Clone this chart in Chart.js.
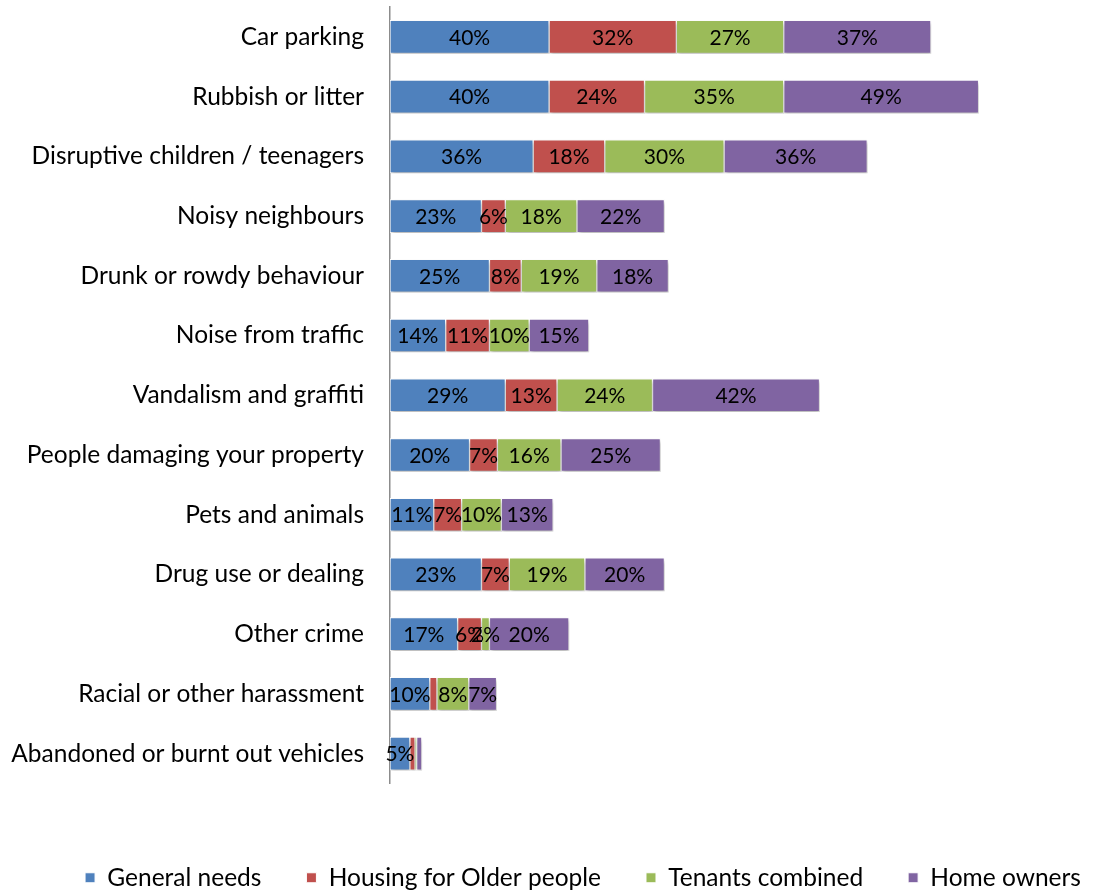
<!DOCTYPE html>
<html>
<head>
<meta charset="utf-8">
<script src="https://cdn.jsdelivr.net/npm/chart.js@4/dist/chart.umd.min.js"></script>
<style>
  html, body { margin: 0; padding: 0; background: #ffffff; }
  #wrap { width: 1093px; height: 893px; position: relative; }
</style>
</head>
<body>
<div id="wrap"><canvas id="c" width="1093" height="893"></canvas></div>
<script>
// ---- Data ----
const categories = [
  "Car parking",
  "Rubbish or litter",
  "Disruptive children / teenagers",
  "Noisy neighbours",
  "Drunk or rowdy behaviour",
  "Noise from traffic",
  "Vandalism and graffiti",
  "People damaging your property",
  "Pets and animals",
  "Drug use or dealing",
  "Other crime",
  "Racial or other harassment",
  "Abandoned or burnt out vehicles"
];
const seriesNames = ["General needs", "Housing for Older people", "Tenants combined", "Home owners"];
const generalNeeds   = [40, 40, 36, 23, 25, 14, 29, 20, 11, 23, 17, 10, 5];
const housingOlder   = [32, 24, 18, 6, 8, 11, 13, 7, 7, 7, 6, 1.8, 1.3];
const tenantsCombined= [27, 35, 30, 18, 19, 10, 24, 16, 10, 19, 2, 8, 0.4];
const homeOwners     = [37, 49, 36, 22, 18, 15, 42, 25, 13, 20, 20, 7, 1.3];
const xMax = 175;

// ---- Styles ----
const colors = ["#4F81BD", "#C0504D", "#9BBB59", "#8064A2"];
const FAMILY = "Lato, 'Open Sans', sans-serif";
const catSize = 24.5;
const legendSize = 24.5;
const valueSize = 21;

const allSeries = [generalNeeds, housingOlder, tenantsCombined, homeOwners];

const shadowPlugin = {
  id: 'barShadow',
  beforeDatasetsDraw(chart) {
    const ctx = chart.ctx;
    ctx.save();
    ctx.shadowColor = 'rgba(0,0,0,0.28)';
    ctx.shadowBlur = 4;
    ctx.shadowOffsetX = 1;
    ctx.shadowOffsetY = 3;
  },
  afterDatasetsDraw(chart) {
    chart.ctx.restore();
  }
};

const valueLabels = {
  id: 'valueLabels',
  afterDatasetsDraw(chart) {
    const ctx = chart.ctx;
    ctx.save();
    ctx.font = valueSize + "px " + FAMILY;
    ctx.fillStyle = "#000000";
    ctx.textAlign = "center";
    ctx.textBaseline = "middle";
    chart.data.datasets.forEach((ds, di) => {
      const meta = chart.getDatasetMeta(di);
      meta.data.forEach((el, i) => {
        const v = ds.data[i];
        if (v < 2) return;
        const p = el.getCenterPoint();
        ctx.fillText(Math.round(v) + "%", p.x, p.y + 1);
      });
    });
    ctx.restore();
  }
};

// shift the legend row to the right, as in the reference
const legendShift = {
  id: 'legendShift',
  afterLayout(chart) {
    if (chart.legend) {
      chart.legend.left += 40;
      chart.legend.right += 40;
    }
  }
};

new Chart(document.getElementById('c'), {
  type: 'bar',
  data: {
    labels: categories,
    datasets: seriesNames.map((name, k) => ({
      label: name,
      data: allSeries[k],
      backgroundColor: colors[k],
      borderColor: '#ffffff',
      borderWidth: 1,
      borderSkipped: false,
      barThickness: 33
    }))
  },
  options: {
    indexAxis: 'y',
    responsive: false,
    animation: false,
    devicePixelRatio: 1,
    layout: { padding: { top: 7, right: 7, left: 0, bottom: -7 } },
    scales: {
      x: {
        stacked: true,
        min: 0,
        max: xMax,
        grid: { display: false, drawTicks: false },
        border: { display: false },
        ticks: { display: false },
        afterFit(s) { s.height = 37; }
      },
      y: {
        stacked: true,
        grid: { display: false, drawTicks: false },
        border: { display: true, color: '#8c8c8c', width: 1.5 },
        ticks: {
          color: '#000000',
          padding: 26,
          font: { family: FAMILY, size: catSize }
        },
        afterFit(s) { s.width = 390; s.paddingTop = 0; s.paddingBottom = 0; }
      }
    },
    plugins: {
      legend: {
        position: 'bottom',
        labels: {
          color: '#000000',
          boxWidth: 10,
          boxHeight: 10,
          padding: 45,
          font: { family: FAMILY, size: legendSize }
        }
      },
      tooltip: { enabled: false }
    }
  },
  plugins: [shadowPlugin, valueLabels, legendShift]
});
</script>
</body>
</html>
